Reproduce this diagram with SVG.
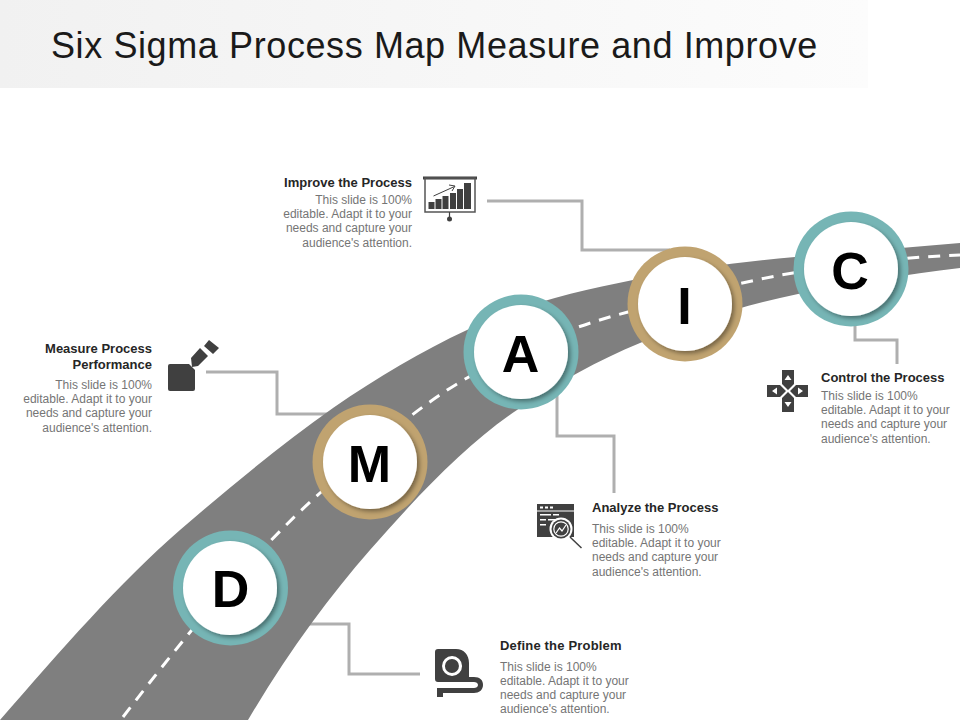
<svg xmlns="http://www.w3.org/2000/svg" width="960" height="720" viewBox="0 0 960 720">
<style>
text{font-family:"Liberation Sans",Arial,sans-serif}
.h{font-size:13px;font-weight:700;fill:#262626}
.b{font-size:12px;fill:#757575}
.l{font-size:52px;font-weight:700;fill:#000;text-anchor:middle}
.e{text-anchor:end}
.c{fill:none;stroke:#afafaf;stroke-width:3}
.i{fill:#404040}
.t{fill:#76b5b5}
.g{fill:#c0a370}
.w{fill:#fff;filter:url(#sh)}
</style>
<defs>
<linearGradient id="tb" x1="0" x2="1" y1="0" y2="0"><stop offset="0" stop-color="#f1f1f1"/><stop offset="1" stop-color="#fcfcfc"/></linearGradient>
<filter id="sh" x="-20%" y="-20%" width="140%" height="140%"><feDropShadow dx="2.500" dy="2.500" stdDeviation="2" flood-color="#000" flood-opacity=".38"/></filter>
</defs>
<rect width="960" height="720" fill="#fff"/>
<rect id="title-bar" x="0" y="0" width="868" height="88" fill="url(#tb)"/>
<text x="51" y="58" font-size="36" letter-spacing=".6" fill="#1a1a1a">Six Sigma Process Map Measure and Improve</text>
<g id="connectors">
<path class="c" d="M487 201H582V250H670"/>
<path class="c" d="M206 372H277V414H340"/>
<path class="c" d="M557 395V436H614V493"/>
<path class="c" d="M855 315V340H897V364"/>
<path class="c" d="M300 624H349V674H420"/>
</g>
<g id="road">
<path d="M0 720C60 651 120 582 180 530C231 486 282 444 333 408C378 377 422 351 467 330C522 304 578 291 633 280C687 269 741 262 795 257L960 243V268C906 274 852 284 798 294C745 305 693 321 640 343C599 360 558 382 517 410C468 443 419 494 370 550C329 597 288 652 248 720Z" fill="#7f7f7f"/>
<path d="M123 717C189 631 254 552 320 493C369 449 418 406 467 378C521 347 574 326 628 312C683 298 738 282 793 273C849 264 905 257 960 255" fill="none" stroke="#fff" stroke-width="3" stroke-dasharray="12 9"/>
</g>
<g id="node-d"><circle class="t" cx="230.500" cy="588" r="57.500"/><circle class="w" cx="230" cy="588" r="47"/><text class="l" x="230.500" y="607">D</text></g>
<g id="node-m"><circle class="g" cx="370" cy="462" r="57.500"/><circle class="w" cx="370" cy="462" r="47"/><text class="l" x="369.500" y="482">M</text></g>
<g id="node-a"><circle class="t" cx="521" cy="352" r="57.500"/><circle class="w" cx="521" cy="352" r="47"/><text class="l" x="520.500" y="372">A</text></g>
<g id="node-i"><circle class="g" cx="685" cy="304" r="57.500"/><circle class="w" cx="685" cy="304" r="47"/><text class="l" x="684.500" y="324">I</text></g>
<g id="node-c"><circle class="t" cx="851" cy="269" r="57.500"/><circle class="w" cx="851" cy="269" r="47"/><text class="l" x="850" y="289">C</text></g>
<g id="improve">
<text class="h e" x="412" y="187">Improve the Process</text>
<text class="b e" x="412" y="204">This slide is 100%</text>
<text class="b e" x="412" y="218">editable. Adapt it to your</text>
<text class="b e" x="412" y="232">needs and capture your</text>
<text class="b e" x="412" y="247">audience's attention.</text>
<rect class="i" x="423" y="176.500" width="54" height="3"/>
<rect x="425" y="178" width="50" height="34" fill="none" stroke="#555" stroke-width="1.500"/>
<path class="i" d="M428.500 202h6v7h-6zM435.500 199h6v10h-6zM442.500 196h6v13h-6zM450 193h6v16h-6zM457 189h6v20h-6zM464 183h7v26h-7z"/>
<path d="M433.500 196L454.500 186.500M449 185L455 186L452 191" fill="none" stroke="#404040" stroke-width="1"/>
<path d="M449.500 212V218" stroke="#404040" stroke-width="1.200"/><circle class="i" cx="449.500" cy="219" r="2.500"/>
</g>
<g id="measure">
<text class="h e" x="152" y="353">Measure Process</text>
<text class="h e" x="152" y="369">Performance</text>
<text class="b e" x="152" y="389">This slide is 100%</text>
<text class="b e" x="152" y="403">editable. Adapt it to your</text>
<text class="b e" x="152" y="417">needs and capture your</text>
<text class="b e" x="152" y="432">audience's attention.</text>
<path class="i" d="M170 364H189L195 370V389Q195 391 193 391H170Q168 391 168 389V366Q168 364 170 364Z"/>
<path class="i" d="M192 367L191 358L200 348L208 356L198 366ZM209 340L219 348L213 354L204 346Z"/>
</g>
<g id="control">
<text class="h" x="821" y="382">Control the Process</text>
<text class="b" x="821" y="400">This slide is 100%</text>
<text class="b" x="821" y="414">editable. Adapt it to your</text>
<text class="b" x="821" y="428">needs and capture your</text>
<text class="b" x="821" y="443">audience's attention.</text>
<path class="i" d="M782 370H794V384L788 390L782 384ZM782 412H794V398L788 392L782 398ZM767 385H780L786 391L780 397H767ZM808 385H796L790 391L796 397H808Z"/>
<path d="M788 375L791.500 380H784.500ZM788 407L791.500 402H784.500ZM772 391L777 387.500V394.500ZM803 391L798 387.500V394.500Z" fill="#fff"/>
</g>
<g id="analyze">
<text class="h" x="592" y="512">Analyze the Process</text>
<text class="b" x="592" y="533">This slide is 100%</text>
<text class="b" x="592" y="547">editable. Adapt it to your</text>
<text class="b" x="592" y="561">needs and capture your</text>
<text class="b" x="592" y="576">audience's attention.</text>
<path class="i" d="M537 504H574V537H537Z"/>
<path d="M540 506.500h3v2h-3zM545 506.500h3v2h-3zM550 506.500h3v2h-3zM537 510.500h37v1h-37zM540 514h11v1.500h-11zM553 514h6v1.500h-6zM540 519h6v1.500h-6zM548 519h11v1.500h-11zM540 524h6v1.500h-6z" fill="#fff"/>
<circle cx="561" cy="529" r="11.500" fill="#fff"/>
<circle cx="561" cy="529" r="9.500" fill="#404040"/>
<circle cx="561" cy="529" r="7.200" fill="none" stroke="#fff" stroke-width="1.200"/>
<path d="M556 533L559.500 528L562 531L566 525" fill="none" stroke="#fff" stroke-width="1.200"/>
<path d="M570 537L581.500 548" stroke="#404040" stroke-width="1.500"/>
</g>
<g id="define">
<text class="h" x="500" y="650" letter-spacing=".18">Define the Problem</text>
<text class="b" x="500" y="671">This slide is 100%</text>
<text class="b" x="500" y="685">editable. Adapt it to your</text>
<text class="b" x="500" y="699">needs and capture your</text>
<text class="b" x="500" y="713">audience's attention.</text>
<path class="i" fill-rule="evenodd" d="M438 649H456C464 649 469 655 469 663V677H474C480 677 483 680 483 685C483 690 479 693 474 693H443V697H437V688H474C476 688 478 687 478 685C478 683 476 682 474 682H438Q435 682 435 679V652Q435 649 438 649ZM452 656A10 10 0 1 0 452.100 676A10 10 0 1 0 452 656ZM452 659A7 7 0 1 1 451.900 673A7 7 0 1 1 452 659Z"/>
</g>
</svg>
